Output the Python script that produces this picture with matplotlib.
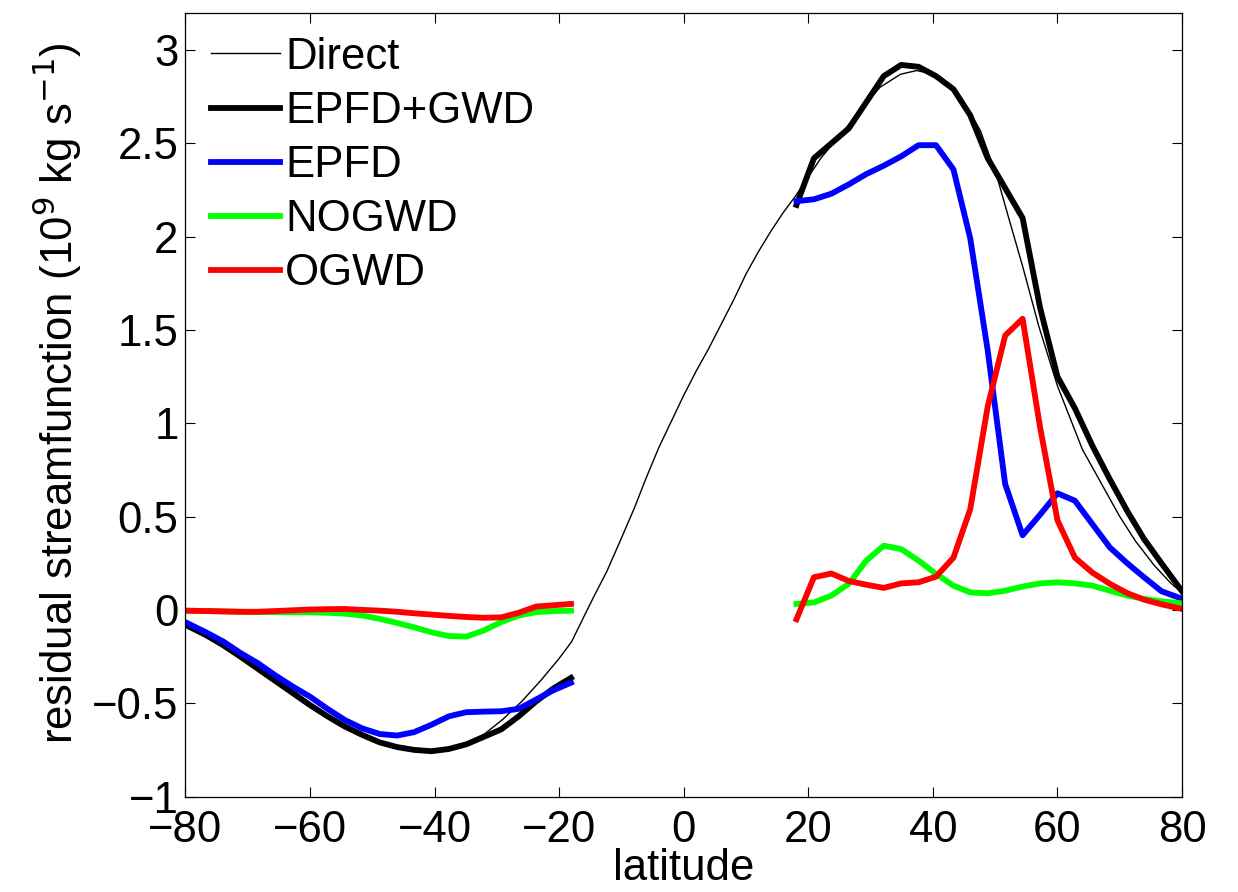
import matplotlib
matplotlib.use("Agg")
import matplotlib.pyplot as plt

plt.rcParams["font.family"] = ["Liberation Sans", "DejaVu Sans"]

# latitudes of the model grid
lat_sh = [-80.0, -76.7, -73.9, -71.2, -68.4, -65.6, -62.8, -60.0, -57.2, -54.4, -51.6, -48.8,
          -46.0, -43.3, -40.5, -37.7, -34.9, -32.1, -29.3, -26.5, -23.7, -20.9, -18.1]
lat_nh = [18.1, 20.9, 23.7, 26.5, 29.3, 32.1, 34.9, 37.7, 40.5, 43.3, 46.0, 48.8,
          51.6, 54.4, 57.2, 60.0, 62.8, 65.6, 68.4, 71.2, 73.9, 76.7, 80.0]

# Direct (thin line, all latitudes)
lat_direct = [-80, -76, -72, -68, -64, -60, -56, -52, -48, -44, -41, -38, -35, -32, -29, -26,
              -23, -20, -18, -16.6, -14.5, -12.3, -10.2, -8, -6, -4, -2, 0, 2, 4, 6, 8, 10,
              12, 14, 16, 18, 20, 22, 24, 26, 28.9, 31.5, 34.8, 37.4, 40.1, 42.8, 45.5, 47.6,
              50.3, 52.0, 54.5, 57.0, 60.0, 62.0, 64.0, 67.0, 70.0, 72.5, 75.5, 78.0, 80]
direct = [-0.07, -0.13, -0.21, -0.30, -0.40, -0.50, -0.59, -0.66, -0.71, -0.745, -0.755, -0.745,
          -0.715, -0.665, -0.585, -0.49, -0.38, -0.26, -0.17, -0.075, 0.067, 0.21, 0.37, 0.54,
          0.71, 0.87, 1.01, 1.15, 1.28, 1.40, 1.53, 1.66, 1.80, 1.92, 2.03, 2.13, 2.22, 2.32,
          2.42, 2.50, 2.58, 2.70, 2.80, 2.87, 2.89, 2.87, 2.81, 2.69, 2.57, 2.32, 2.12, 1.83,
          1.52, 1.20, 1.03, 0.86, 0.68, 0.50, 0.37, 0.24, 0.15, 0.09]

# EPFD+GWD (thick black)
epfd_gwd_sh = [-0.08, -0.135, -0.19, -0.25, -0.315, -0.38, -0.445, -0.51, -0.57, -0.625, -0.67,
               -0.71, -0.735, -0.75, -0.757, -0.745, -0.72, -0.68, -0.64, -0.57, -0.49, -0.42,
               -0.364]
epfd_gwd_nh = [2.17, 2.42, 2.50, 2.58, 2.72, 2.86, 2.92, 2.91, 2.86, 2.79, 2.65, 2.42, 2.26,
               2.10, 1.62, 1.25, 1.08, 0.88, 0.70, 0.53, 0.38, 0.25, 0.10]

# EPFD (blue)
epfd_sh = [-0.066, -0.12, -0.17, -0.23, -0.285, -0.35, -0.41, -0.465, -0.53, -0.59, -0.635,
           -0.665, -0.673, -0.655, -0.615, -0.57, -0.548, -0.545, -0.543, -0.53, -0.48, -0.43,
           -0.39]
epfd_nh = [2.19, 2.20, 2.23, 2.28, 2.335, 2.38, 2.43, 2.49, 2.49, 2.36, 1.99, 1.39, 0.675,
           0.40, 0.51, 0.625, 0.585, 0.46, 0.335, 0.25, 0.175, 0.10, 0.06]

# NOGWD (green)
nogwd_sh = [-0.004, -0.006, -0.008, -0.01, -0.012, -0.012, -0.013, -0.013, -0.015, -0.02, -0.03,
            -0.048, -0.07, -0.093, -0.12, -0.14, -0.143, -0.11, -0.065, -0.03, -0.012, -0.006,
            -0.004]
nogwd_nh = [0.032, 0.04, 0.077, 0.14, 0.264, 0.344, 0.326, 0.264, 0.193, 0.13, 0.094, 0.089,
            0.103, 0.125, 0.142, 0.148, 0.142, 0.13, 0.103, 0.077, 0.059, 0.046, 0.035]

# OGWD (red)
ogwd_sh = [-0.004, -0.006, -0.008, -0.01, -0.01, -0.006, -0.002, 0.002, 0.004, 0.005, 0.0,
           -0.004, -0.01, -0.018, -0.025, -0.032, -0.038, -0.042, -0.04, -0.015, 0.018, 0.025,
           0.032]
ogwd_nh = [-0.05, 0.175, 0.195, 0.155, 0.135, 0.118, 0.142, 0.148, 0.178, 0.28, 0.54, 1.09,
           1.47, 1.56, 0.98, 0.48, 0.28, 0.20, 0.14, 0.09, 0.055, 0.03, 0.005]

xticks = [-80, -60, -40, -20, 0, 20, 40, 60, 80]
yticks = [-1, -0.5, 0, 0.5, 1, 1.5, 2, 2.5, 3]
ytick_labels = ["\u22121", "\u22120.5", "0", "0.5", "1", "1.5", "2", "2.5", "3"]

FS = 31.5
THICK = 4.2
THIN = 1.0

fig = plt.figure(figsize=(12.38, 8.92), dpi=100)
ax = fig.add_axes([0.1498, 0.107, 0.8050, 0.8788])

ax.plot(lat_direct, direct, color="k", lw=THIN, label="Direct")
ax.plot(lat_sh, epfd_gwd_sh, color="k", lw=THICK, label="EPFD+GWD")
ax.plot(lat_nh, epfd_gwd_nh, color="k", lw=THICK)
ax.plot(lat_sh, epfd_sh, color=(0, 0, 1), lw=THICK, label="EPFD")
ax.plot(lat_nh, epfd_nh, color=(0, 0, 1), lw=THICK)
ax.plot(lat_sh, nogwd_sh, color=(0, 1, 0), lw=THICK, label="NOGWD")
ax.plot(lat_nh, nogwd_nh, color=(0, 1, 0), lw=THICK)
ax.plot(lat_sh, ogwd_sh, color=(1, 0, 0), lw=THICK, label="OGWD")
ax.plot(lat_nh, ogwd_nh, color=(1, 0, 0), lw=THICK)

ax.set_xlim(-80, 80)
ax.set_ylim(-1, 3.2)
ax.set_xticks(xticks)
ax.set_xticklabels([str(t).replace("-", "\u2212") for t in xticks])
ax.set_yticks(yticks)
ax.set_yticklabels(ytick_labels)
ax.tick_params(direction="in", length=7, width=0.8, top=True, right=True, labelsize=FS)
ax.tick_params(axis="x", pad=10)
ax.tick_params(axis="y", pad=5)
for sp in ax.spines.values():
    sp.set_linewidth(0.9)

ax.set_xlabel("latitude", fontsize=FS)
ax.set_ylabel("residual streamfunction (10$^9$ kg s$^{-1}$)", fontsize=FS)
ax.xaxis.set_label_coords(0.5, -0.066)
ax.yaxis.set_label_coords(-0.102, 0.515)

ax.legend(loc="upper left", bbox_to_anchor=(0.0, 1.0016), frameon=False, fontsize=FS,
          handlelength=1.58, handletextpad=0.12, labelspacing=0.3,
          borderaxespad=0.2, borderpad=0.38)

fig.savefig("out.png", dpi=100)
